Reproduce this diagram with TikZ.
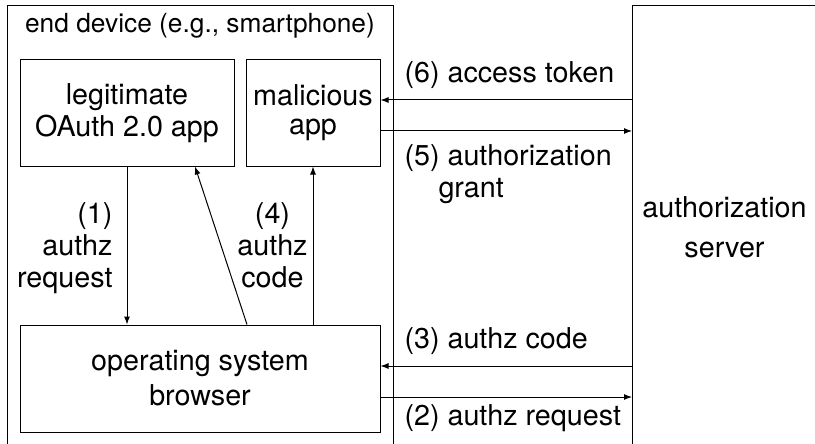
\documentclass[tikz,border=0pt]{standalone}
\usepackage{fontspec}
\setmainfont{TeX Gyre Heros}
\usetikzlibrary{arrows.meta}

\begin{document}
\begin{tikzpicture}[x=1pt,y=-1pt,>={Latex[length=8pt,width=6pt]},line width=1pt,
  font=\fontsize{28.7}{32}\selectfont,
  box/.style={draw,align=center,inner sep=0pt},
  lbl/.style={inner sep=0pt}]

\useasboundingbox (0,0) rectangle (815,444);
\clip (0,0) rectangle (815,444);

%------------------------------------------------
% containers (cut off at the bottom and right)
%------------------------------------------------
\draw (7,6) rectangle (393,470);
\draw (632,6) rectangle (850,470);
\coordinate (srv) at (632,6);

\node[lbl,anchor=base,font=\fontsize{26.3}{30}\selectfont] (devlbl) at (200,33) {end device (e.g., smartphone)};
\node[lbl,anchor=base,align=center] (srvlbl) at (724.5,257) {authorization\\[8pt]server};

%------------------------------------------------
% apps and browser
%------------------------------------------------
\node[box,minimum width=214pt,minimum height=106pt] (legit) at (127,113) {legitimate\\OAuth 2.0 app};
\node[box,minimum width=134pt,minimum height=106pt] (mal) at (313,113) {malicious\\[-3pt]app};
\node[box,minimum width=360pt,minimum height=107pt] (browser) at (200,378.5) {operating system\\[3pt]browser};

% inside the device
\draw[->] (legit.south) -- (legit.south |- browser.north);
\draw[->] ([xshift=47pt]browser.north) -- ([xshift=68pt]legit.south);
\draw[->] (mal.south |- browser.north) -- (mal.south);

\node[lbl,anchor=base east,align=right] (req1) at (113,287) {(1)\\authz\\request};
\node[lbl,anchor=base,align=center] (code4) at (272.5,287) {(4)\\authz\\code};

% to and from the server
\draw[<-] ([yshift=13pt]mal.east) -- ([yshift=13pt]mal.east -| srv);
\draw[->] ([yshift=-18pt]mal.east) -- ([yshift=-18pt]mal.east -| srv);
\draw[<-] ([yshift=12.5pt]browser.east) -- ([yshift=12.5pt]browser.east -| srv);
\draw[->] ([yshift=-18.5pt]browser.east) -- ([yshift=-18.5pt]browser.east -| srv);

\node[lbl,anchor=base west] (tok6) at (404,83) {(6) access token};
\node[lbl,anchor=base west,align=left] (grant5) at (404,197) {(5) authorization\\\hspace*{34pt}grant};
\node[lbl,anchor=base west] (code3) at (404,348) {(3) authz code};
\node[lbl,anchor=base west] (req2) at (404,425) {(2) authz request};

\end{tikzpicture}
\end{document}
